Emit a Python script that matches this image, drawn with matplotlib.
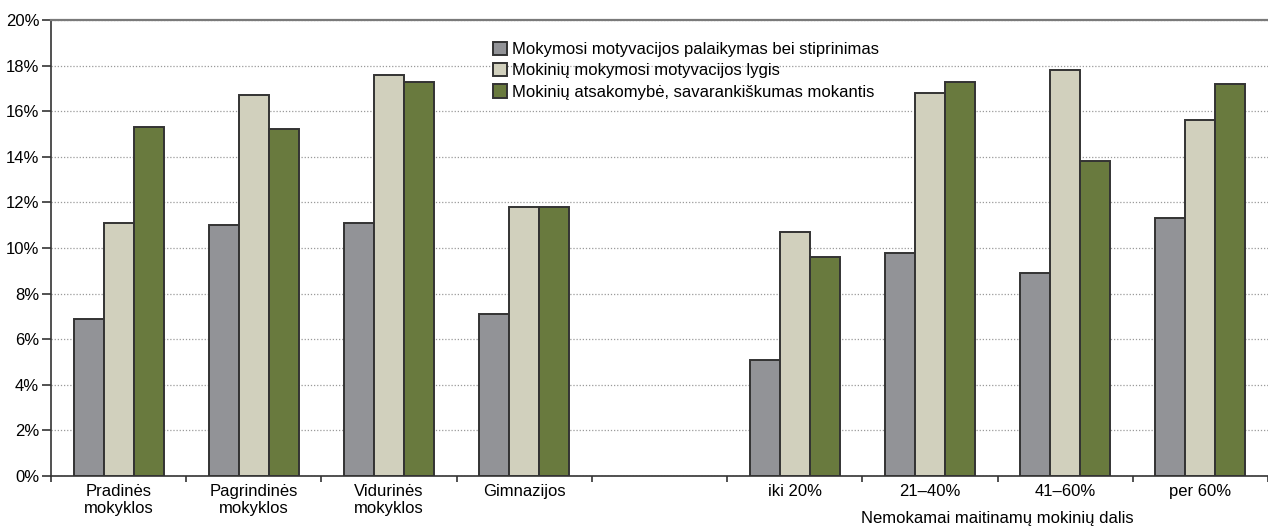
import matplotlib
matplotlib.use("Agg")
import matplotlib.pyplot as plt
import numpy as np
from matplotlib.ticker import FixedLocator, PercentFormatter

# Data (percent)
categories = ["Pradinės\nmokyklos", "Pagrindinės\nmokyklos", "Vidurinės\nmokyklos",
              "Gimnazijos", "", "iki 20%", "21–40%", "41–60%", "per 60%"]
series_names = [
    "Mokymosi motyvacijos palaikymas bei stiprinimas",
    "Mokinių mokymosi motyvacijos lygis",
    "Mokinių atsakomybė, savarankiškumas mokantis",
]
support = [6.9, 11.0, 11.1, 7.1, np.nan, 5.1, 9.8, 8.9, 11.3]
level = [11.1, 16.7, 17.6, 11.8, np.nan, 10.7, 16.8, 17.8, 15.6]
responsibility = [15.3, 15.2, 17.3, 11.8, np.nan, 9.6, 17.3, 13.8, 17.2]
xlabel_right = "Nemokamai maitinamų mokinių dalis"

colors = ["#929397", "#d1d0bd", "#697a3e"]
edge = "#333333"

plt.rcParams["font.family"] = ["Liberation Sans", "DejaVu Sans"]
plt.rcParams["font.size"] = 12

fig = plt.figure(figsize=(12.68, 5.26), dpi=100)
ax = fig.add_axes([0.0402, 0.0951, 0.9598, 0.867])

x = np.arange(len(categories))
width = 0.222
for i, (vals, name, col) in enumerate(zip([support, level, responsibility], series_names, colors)):
    ax.bar(x + (i - 1) * width, vals, width, color=col, edgecolor=edge,
           linewidth=1.4, label=name, zorder=3)

ax.set_ylim(0, 20)
ax.set_xlim(-0.5, 8.42)
ax.yaxis.set_major_locator(FixedLocator(np.arange(0, 21, 2)))
ax.yaxis.set_major_formatter(PercentFormatter(decimals=0))
ax.grid(axis="y", linestyle=(0, (1, 1.5)), color="#9a9a9a", linewidth=0.9, zorder=0)

# tick marks at group boundaries, labels centered in slots
ax.set_xticks(np.arange(-0.5, 9.0, 1.0))
ax.set_xticklabels([])
ax.set_xticks(x, minor=True)
ax.set_xticklabels(categories, minor=True, fontsize=12, linespacing=1.15)
ax.tick_params(axis="x", which="minor", length=0, pad=6)
ax.tick_params(axis="x", which="major", length=4.5, width=1.2, color=edge, direction="out")
ax.tick_params(axis="y", length=6.5, width=1.2, color=edge, direction="out", labelsize=12, pad=2)

ax.spines["right"].set_visible(False)
ax.spines["top"].set_color("#7a7a7a")
ax.spines["top"].set_linewidth(1.6)
for side in ["left", "bottom"]:
    ax.spines[side].set_color(edge)
    ax.spines[side].set_linewidth(1.2)

ax.text(6.5, -0.103, xlabel_right, transform=ax.get_xaxis_transform(),
        ha="center", va="baseline", fontsize=12)

ax.legend(loc="upper left", bbox_to_anchor=(0.3505, 0.985), frameon=False,
          fontsize=12, handlelength=0.85, handleheight=0.85, handletextpad=0.3,
          labelspacing=0.35, borderaxespad=0.5)

fig.savefig("out.png", dpi=100)
